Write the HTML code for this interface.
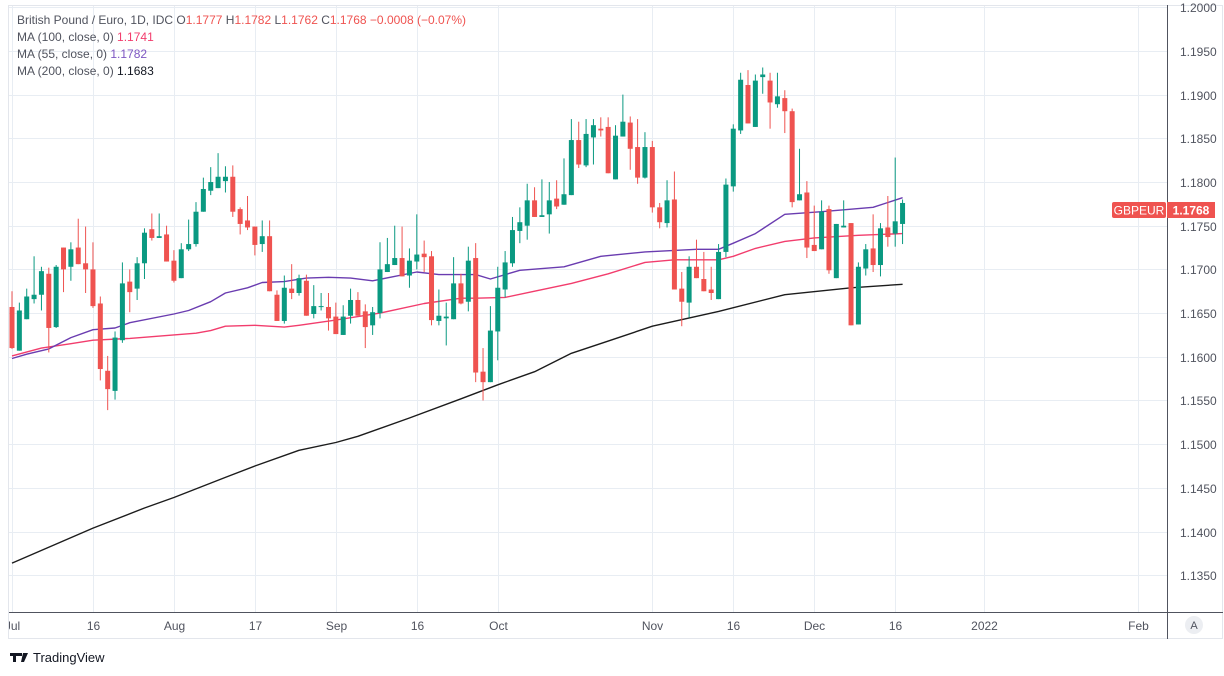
<!DOCTYPE html>
<html><head><meta charset="utf-8"><style>
html,body{margin:0;padding:0;background:#fff;}
svg{display:block;font-family:"Liberation Sans",sans-serif;}
</style></head><body>
<svg id="chart" width="1224" height="676" viewBox="0 0 1224 676" xmlns="http://www.w3.org/2000/svg">
<defs><clipPath id="plotClip"><rect x="9" y="6" width="1158" height="606"/></clipPath>
<clipPath id="xClip"><rect x="9" y="612" width="1158" height="27"/></clipPath></defs>
<rect x="8.5" y="5.5" width="1214" height="633" fill="#fff" stroke="#e3e6ec"/>
<g id="grid"></g>
<g id="ma" clip-path="url(#plotClip)"></g>
<g id="candles" clip-path="url(#plotClip)"></g>
<g id="yaxis"></g>
<g id="xaxis"></g>
<line x1="1167.5" y1="5" x2="1167.5" y2="639" stroke="#50535e"/>
<line x1="9" y1="612.5" x2="1223" y2="612.5" stroke="#50535e"/>
<g font-size="12" fill="#50535e">
<text x="17" y="24">British Pound / Euro, 1D, IDC  <tspan fill="#50535e">O</tspan><tspan fill="#ef5350">1.1777</tspan>  H<tspan fill="#ef5350">1.1782</tspan>  L<tspan fill="#ef5350">1.1762</tspan>  C<tspan fill="#ef5350">1.1768</tspan>  <tspan fill="#ef5350">−0.0008 (−0.07%)</tspan></text>
<text x="17" y="41">MA (100, close, 0)  <tspan fill="#f23d6d">1.1741</tspan></text>
<text x="17" y="58">MA (55, close, 0)  <tspan fill="#7e57c2">1.1782</tspan></text>
<text x="17" y="75">MA (200, close, 0)  <tspan fill="#131722">1.1683</tspan></text>
</g>
<g>
<rect x="1112" y="202" width="54" height="16" rx="2" fill="#ef5350"/>
<text x="1139" y="214.5" font-size="12" fill="#fff" text-anchor="middle">GBPEUR</text>
<rect x="1167" y="202" width="48" height="16" fill="#ef5350"/>
<text x="1191" y="214.5" font-size="12" font-weight="bold" fill="#fff" text-anchor="middle">1.1768</text>
</g>
<g>
<circle cx="1194" cy="625" r="9" fill="#eceef2"/>
<text x="1194" y="629" font-size="11" fill="#50535e" text-anchor="middle">A</text>
</g>
<g>
<path d="M10 653h9v3h-3v6h-3v-6h-3z M19 653h3v3h-3z M23 653h5l-4 9h-3z" fill="#131722"/>
<text x="33" y="662" font-size="13" fill="#131722">TradingView</text>
</g>
</svg>
<script>
const openPips=[11657,11607,11643,11666,11671,11695,11634,11725,11703,11725,11707,11700,11661,11584,11561,11619,11686,11678,11707,11746,11736,11740,11710,11690,11723,11729,11766,11790,11793,11801,11806,11769,11756,11749,11729,11738,11671,11641,11678,11673,11687,11649,11657,11657,11646,11625,11647,11665,11652,11636,11650,11697,11705,11713,11693,11709,11718,11715,11641,11644,11643,11684,11663,11713,11583,11571,11629,11677,11707,11744,11750,11779,11760,11763,11781,11774,11785,11848,11819,11851,11861,11863,11803,11852,11868,11840,11805,11840,11771,11753,11780,11678,11662,11703,11689,11677,11666,11720,11795,11859,11911,11863,11920,11916,11889,11896,11881,11779,11788,11728,11723,11769,11690,11748,11753,11637,11701,11724,11705,11748,11741,11752];
const highPips=[11675,11662,11678,11715,11703,11702,11705,11725,11731,11758,11749,11731,11669,11601,11629,11708,11700,11714,11747,11764,11764,11750,11722,11730,11757,11777,11805,11817,11833,11818,11819,11771,11784,11749,11756,11756,11676,11693,11706,11694,11694,11682,11673,11673,11662,11659,11678,11674,11660,11657,11731,11736,11750,11749,11724,11763,11733,11721,11677,11662,11714,11695,11726,11730,11610,11658,11703,11721,11760,11771,11798,11794,11803,11800,11802,11827,11872,11869,11872,11872,11874,11874,11865,11900,11875,11872,11857,11847,11776,11802,11812,11697,11715,11734,11720,11703,11729,11804,11866,11925,11928,11923,11931,11925,11925,11905,11884,11838,11801,11773,11779,11773,11752,11779,11753,11708,11729,11763,11753,11784,11828,11780];
const lowPips=[11609,11607,11643,11661,11653,11605,11633,11674,11687,11706,11673,11656,11573,11539,11551,11616,11651,11665,11689,11733,11736,11709,11685,11690,11721,11726,11766,11785,11793,11788,11760,11740,11745,11716,11720,11675,11641,11638,11666,11670,11647,11644,11653,11630,11626,11625,11638,11647,11610,11625,11644,11697,11705,11692,11679,11700,11697,11636,11636,11613,11643,11660,11652,11571,11550,11571,11596,11668,11703,11730,11734,11760,11760,11741,11769,11774,11785,11816,11817,11820,11852,11810,11803,11852,11814,11798,11804,11765,11747,11748,11677,11635,11645,11690,11675,11665,11666,11714,11789,11855,11867,11863,11901,11861,11885,11856,11771,11779,11713,11721,11723,11695,11690,11748,11636,11637,11693,11697,11692,11726,11726,11729];
const closePips=[11610,11653,11669,11671,11698,11633,11703,11700,11723,11706,11700,11658,11586,11563,11622,11684,11674,11707,11742,11736,11738,11709,11687,11723,11729,11766,11792,11800,11806,11806,11766,11752,11748,11728,11738,11675,11641,11679,11673,11690,11647,11658,11658,11644,11626,11646,11665,11647,11634,11651,11700,11706,11713,11692,11710,11717,11714,11642,11647,11646,11684,11661,11710,11582,11571,11630,11679,11708,11745,11754,11779,11760,11762,11779,11772,11786,11848,11820,11855,11865,11859,11810,11853,11869,11838,11805,11840,11771,11754,11779,11677,11663,11703,11690,11675,11673,11720,11797,11861,11917,11867,11916,11923,11891,11898,11881,11777,11786,11725,11721,11766,11699,11752,11750,11636,11703,11723,11705,11747,11737,11755,11776];
const ma200Idx=[0,11,18,22,29,33,39,44,47,54,61,66,71,76,81,87,96,105,114,121];
const ma200Pips=[11364,11404,11427,11439,11462,11475,11493,11502,11509,11530,11552,11568,11583,11604,11618,11635,11652,11671,11679,11683];
const ma55Idx=[0,2,5,8,11,14,16,22,24,27,29,32,34,37,40,43,46,49,55,58,63,65,69,75,80,86,93,96,98,101,105,110,117,121];
const ma55Pips=[11598,11603,11609,11622,11631,11633,11639,11649,11653,11663,11673,11679,11685,11686,11690,11691,11690,11687,11697,11694,11694,11689,11699,11703,11715,11720,11723,11723,11730,11741,11763,11766,11771,11782];
const ma100Idx=[0,4,8,11,16,22,25,27,29,33,37,39,44,50,56,61,63,67,71,76,81,86,90,96,98,101,105,109,115,121];
const ma100Pips=[11601,11610,11615,11619,11621,11625,11627,11630,11635,11636,11634,11636,11642,11650,11661,11667,11667,11668,11675,11684,11695,11708,11711,11711,11715,11724,11732,11736,11739,11741];
const priceTicks=["1.2000","1.1950","1.1900","1.1850","1.1800","1.1750","1.1700","1.1650","1.1600","1.1550","1.1500","1.1450","1.1400","1.1350"];
const timeLabels=["Jul","16","Aug","17","Sep","16","Oct","Nov","16","Dec","16","2022","Feb"];
const timeLabelIdx=[0,11,22,33,44,55,66,87,98,109,120,132,153];

const NS="http://www.w3.org/2000/svg";
function xOf(i){return 12+i*7.36;}
function yOf(p){return 182+(1.18-p)*8740;}
function mk(tag,attrs,parent){const e=document.createElementNS(NS,tag);for(const k in attrs)e.setAttribute(k,attrs[k]);parent.appendChild(e);return e;}
const grid=document.getElementById('grid'),yaxis=document.getElementById('yaxis'),xaxis=document.getElementById('xaxis');
priceTicks.forEach(t=>{const y=Math.round(yOf(parseFloat(t)))+0.5;
 const l=mk('line',{x1:9,x2:1167,y1:y,y2:y,stroke:'#e8edf3'},grid);
 
 
 const tx=mk('text',{x:1180,y:y+4.5,'font-size':12,fill:'#50535e'},yaxis);tx.textContent=t;
 
 
});
const xg=mk('g',{'clip-path':'url(#xClip)'},xaxis);
timeLabels.forEach((t,k)=>{const x=Math.round(xOf(timeLabelIdx[k]))+0.5;
 const l=mk('line',{x1:x,x2:x,y1:6,y2:612,stroke:'#e8edf3'},grid);
 
 
 const tx=mk('text',{x:x,y:630,'font-size':12,fill:'#50535e','text-anchor':'middle'},xg);tx.textContent=t;
 
 
});
const ma=document.getElementById('ma');
function drawMA(idx,vals,color,name){let d='';idx.forEach((i,k)=>{d+=(k?'L':'M')+xOf(i).toFixed(1)+' '+yOf(vals[k]/10000).toFixed(1);});
 const p=mk('path',{d:d,fill:'none',stroke:color,'stroke-width':1.4,'stroke-linejoin':'round'},ma);
 
 }
drawMA(ma100Idx,ma100Pips,'#f23d6d','ma100-line');
drawMA(ma55Idx,ma55Pips,'#6a3cb0','ma55-line');
drawMA(ma200Idx,ma200Pips,'#1c1c1c','ma200-line');
const cg=document.getElementById('candles');
openPips.forEach((o,i)=>{const c=closePips[i],h=highPips[i],l=lowPips[i];
 const up=c>=o,col=up?'#0a9981':'#ef5350',x=xOf(i);
 const g=mk('g',{},cg);
 
 
 mk('line',{x1:x,x2:x,y1:yOf(h/10000),y2:yOf(l/10000),stroke:col,'stroke-width':1},g);
 const yt=yOf(Math.max(o,c)/10000),yb=yOf(Math.min(o,c)/10000);
 mk('rect',{x:x-2.5,y:yt,width:5,height:Math.max(1,yb-yt),fill:col},g);
});
</script>
</body></html>
